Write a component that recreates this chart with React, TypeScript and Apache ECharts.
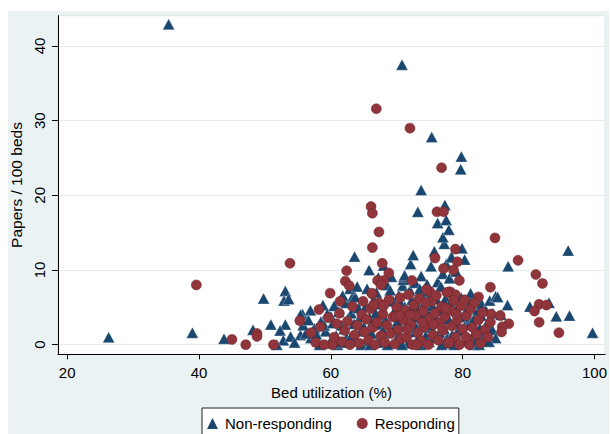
import React, { useEffect, useRef } from "react";
import * as echarts from "echarts";

const xTicks = [20, 40, 60, 80, 100];
const yTicks = [0, 10, 20, 30, 40];
const seriesNames = ["Non-responding", "Responding"];

// Non-responding hospitals: [bed utilization %, papers / 100 beds]
const nonResponding: number[][] = [
  [26.3, 1.0], [35.4, 42.9], [39.0, 1.6], [43.8, 0.8], [49.8, 6.2], [48.2, 2.0], [50.9, 2.7],
  [53.1, 7.2], [52.9, 5.9], [53.6, 6.1], [53.1, 2.7], [52.3, 1.9], [52.8, 0.6], [51.8, 0.0],
  [53.9, 1.1], [55.7, 4.1], [55.4, 1.3], [54.5, 0.3],
  [55.4, 4.0], [56.9, 4.6], [57.5, 2.2], [56.2, 1.5], [58.0, 0.5], [58.5, 3.1], [59.2, 1.8],
  [59.8, 0.2], [57.0, 0.9], [55.8, 2.6], [58.8, 5.3], [59.5, 4.2],
  [56.6, 3.3], [57.8, 1.4], [58.3, 0.0], [59.0, 2.6], [60.0, 3.8], [61.0, 0.0], [61.6, 2.6],
  [62.4, 0.9], [63.1, 4.2], [64.1, 3.1], [65.2, 0.2], [66.3, 3.0], [67.5, 4.0], [68.9, 1.6],
  [70.0, 0.3], [71.2, 5.1], [72.4, 3.0], [73.6, 0.0], [74.8, 2.3], [76.1, 4.5], [77.7, 1.0],
  [79.5, 2.2], [80.9, 3.4], [81.7, 0.0], [82.8, 3.9], [83.9, 2.4], [84.6, 4.2], [81.9, 1.8],
  [60.3, 2.9], [60.8, 1.2], [61.2, 4.4], [61.5, 0.3], [62.0, 2.1], [62.3, 5.6], [62.6, 3.5],
  [63.0, 1.0], [63.3, 6.4], [63.7, 6.4], [63.5, 2.8], [63.9, 0.5], [64.2, 4.9], [64.5, 1.8],
  [64.8, 3.7], [60.5, 5.2], [61.8, 6.6], [62.9, 7.5], [64.0, 7.8], [63.6, 11.8], [64.6, 0.0],
  [65.0, 2.4], [65.3, 5.1], [65.6, 0.8], [65.9, 3.6], [66.2, 1.5], [66.5, 6.0], [66.8, 4.2],
  [67.1, 0.3], [67.4, 2.7], [67.7, 5.4], [68.0, 1.1], [68.3, 3.3], [68.5, 8.0], [68.8, 6.3],
  [69.0, 7.3], [69.2, 9.1], [69.4, 2.0], [69.7, 4.6], [69.9, 0.6], [65.5, 7.5], [66.9, 7.0],
  [67.9, 1.9], [68.6, 0.0], [66.0, 0.0], [69.5, 5.8], [67.2, 9.0], [65.8, 10.0], [68.0, 10.6],
  [70.1, 3.1], [70.4, 1.4], [70.6, 5.5], [70.9, 7.9], [71.0, 8.7], [71.1, 9.1], [71.2, 9.3],
  [71.4, 2.4], [71.7, 0.2], [71.9, 4.1], [72.0, 7.3], [72.1, 10.8], [72.5, 12.0], [72.3, 6.0],
  [72.6, 1.7], [72.9, 3.6], [73.2, 0.8], [73.4, 5.0], [73.7, 9.2], [73.9, 2.9], [74.2, 6.8],
  [74.4, 1.2], [74.7, 4.4], [74.9, 0.4], [70.3, 6.6], [71.5, 6.9], [72.8, 8.3], [73.5, 7.5],
  [74.0, 3.8], [74.6, 8.1], [70.8, 0.0], [73.0, 2.2], [74.3, 5.7], [72.2, 4.9],
  [75.2, 10.5], [75.7, 12.5], [75.1, 2.6], [75.4, 5.2], [75.6, 0.9], [75.9, 3.9], [76.2, 8.4],
  [76.5, 1.6], [76.7, 7.8], [76.9, 4.7], [77.2, 2.1], [77.4, 6.2], [77.6, 0.2], [77.9, 3.4],
  [78.1, 5.6], [78.3, 11.8], [78.4, 1.3], [78.6, 7.0], [78.9, 2.8], [79.1, 4.8], [79.3, 0.6],
  [79.6, 3.7], [79.8, 6.3], [79.9, 12.9], [75.3, 7.1], [76.0, 6.1], [76.3, 3.0], [77.0, 9.5],
  [78.0, 8.9], [79.0, 9.8], [77.5, 10.8], [76.8, 0.0], [78.7, 0.0], [77.2, 13.5], [77.0, 14.4],
  [80.1, 1.9], [80.3, 11.4], [80.4, 4.3], [80.6, 0.5], [80.8, 4.9], [81.0, 2.7], [81.3, 5.8],
  [81.5, 1.1], [81.8, 3.6], [82.0, 0.3], [82.3, 4.6], [82.6, 2.2], [82.9, 5.4], [83.2, 1.4],
  [83.3, 0.9], [83.5, 4.6], [83.8, 3.0], [84.1, 5.9], [84.5, 2.0], [85.0, 0.9], [85.0, 6.5],
  [85.3, 6.4], [85.8, 4.0], [86.8, 5.3], [86.9, 10.5], [81.2, 6.9], [82.5, 0.0], [84.0, 0.4],
  [70.8, 37.5], [75.3, 27.8], [79.8, 25.2], [79.7, 23.5], [73.7, 20.7], [77.3, 18.7],
  [73.2, 17.8], [76.2, 16.3], [77.5, 16.7], [77.9, 15.4], [78.3, 11.7],
  [96.0, 12.6], [90.2, 5.1], [93.1, 5.6], [94.2, 3.8], [96.2, 3.9], [99.7, 1.6],
];

// Responding hospitals
const responding: number[][] = [
  [39.6, 8.0], [45.0, 0.7], [47.1, 0.0], [48.8, 1.5], [48.8, 1.1], [51.3, 0.0], [53.8, 10.9],
  [55.3, 3.2], [58.2, 4.7], [57.7, 0.3], [60.2, 0.0],
  [66.9, 31.6], [72.0, 29.0], [76.8, 23.7], [66.1, 18.5], [66.3, 17.6], [76.1, 17.8], [77.1, 17.8],
  [67.3, 15.1], [66.3, 13.0], [67.8, 10.9], [68.8, 9.6], [62.4, 9.9], [62.2, 8.5], [62.8, 7.9],
  [67.1, 8.6], [68.0, 8.6], [67.6, 8.0], [66.3, 6.8], [59.9, 6.9], [72.3, 8.6], [75.8, 11.6],
  [78.9, 12.8], [79.2, 11.1], [77.1, 10.2], [78.6, 10.0], [79.5, 8.6], [84.9, 14.3], [88.4, 11.3],
  [91.1, 9.4], [92.1, 8.2], [84.2, 7.7], [82.4, 6.4], [91.6, 5.4], [92.7, 5.3], [90.9, 4.5],
  [91.6, 3.0], [94.6, 1.6], [85.7, 3.9], [87.0, 2.8], [86.0, 2.4], [85.9, 1.7], [84.3, 4.1],
  [78.0, 7.1], [78.9, 6.7], [75.0, 7.1], [61.4, 5.8], [64.9, 5.8], [66.2, 6.9],
  [57.0, 1.6], [58.4, 2.4], [59.0, 0.0], [59.6, 3.6], [60.5, 1.0], [60.9, 2.8], [61.3, 4.2],
  [61.7, 0.4], [62.1, 1.9], [62.5, 3.1], [62.9, 0.0], [63.3, 5.1], [63.6, 1.3], [64.0, 2.6],
  [64.3, 0.2], [64.7, 4.0], [65.1, 1.7], [65.4, 3.4], [65.7, 0.6], [66.0, 4.8], [66.4, 2.3],
  [66.7, 0.0], [67.0, 3.0], [67.3, 5.6], [67.6, 1.2], [67.9, 4.1], [68.2, 0.3], [68.5, 2.6],
  [68.8, 6.0], [69.1, 1.5], [69.4, 3.7], [69.7, 0.1], [70.0, 5.0], [70.2, 2.0], [70.5, 6.3],
  [70.7, 0.8], [71.0, 3.3], [71.3, 4.6], [71.5, 1.0], [71.8, 6.7], [72.1, 2.7], [72.4, 0.0],
  [72.6, 5.3], [72.9, 3.9], [73.2, 1.6], [73.4, 6.2], [73.7, 0.5], [74.0, 4.5], [74.2, 2.4],
  [74.5, 7.4], [74.8, 0.0], [75.0, 3.5], [75.3, 5.8], [75.5, 1.3], [75.8, 4.2], [76.0, 6.6],
  [76.3, 0.6], [76.5, 2.9], [76.8, 5.1], [77.0, 1.9], [77.3, 3.8], [77.6, 7.0], [77.8, 0.2],
  [78.1, 4.6], [78.4, 2.5], [78.6, 5.9], [78.9, 1.0], [79.2, 3.3], [79.5, 0.0], [79.7, 5.2],
  [80.0, 2.1], [80.3, 6.0], [80.6, 3.9], [80.9, 0.7], [81.2, 4.8], [81.5, 2.3], [81.8, 5.6],
  [82.1, 1.4], [82.4, 3.3], [82.7, 0.2], [83.0, 4.3], [83.4, 2.0], [83.8, 1.0], [84.2, 3.0],
  [81.0, 0.0], [73.9, 3.0], [72.0, 4.0], [69.9, 3.8], [68.0, 5.2], [66.5, 5.3], [70.4, 3.9],
  [75.6, 2.7], [77.4, 4.9], [79.0, 4.1], [74.4, 5.6], [71.6, 2.1], [73.0, 0.0], [78.0, 0.3],
  [76.9, 2.3], [80.5, 1.0],
];

const FONT = "'Liberation Sans', Arial, Helvetica, sans-serif";

export default function App() {
  const ref = useRef<HTMLDivElement>(null);
  useEffect(() => {
    if (!ref.current) return;
    const chart = echarts.init(ref.current, null, { renderer: "svg" });
    chart.setOption({
      animation: false,
      backgroundColor: "#eaf2f3",
      textStyle: { fontFamily: FONT },
      graphic: [
        { type: "rect", shape: { x: 0, y: 0, width: 610, height: 11 }, style: { fill: "#ffffff" }, silent: true },
        { type: "rect", shape: { x: 0, y: 0, width: 8, height: 434 }, style: { fill: "#ffffff" }, silent: true },
        { type: "rect", shape: { x: 609, y: 0, width: 1, height: 434 }, style: { fill: "#ffffff" }, silent: true },
      ],
      grid: {
        left: 55.7,
        right: 3.3,
        top: 15.7,
        bottom: 79.7,
        show: true,
        backgroundColor: "#ffffff",
        borderColor: "#dbe5e8",
        borderWidth: 1,
      },
      legend: {
        left: 202,
        top: 408,
        orient: "horizontal",
        backgroundColor: "#ffffff",
        borderColor: "#222222",
        borderWidth: 1,
        padding: [8, 4, 14, 5],
        itemGap: 25,
        itemWidth: 11,
        itemHeight: 11,
        itemStyle: { borderWidth: 0 },
        textStyle: { fontSize: 15, color: "#000", fontFamily: FONT, padding: [0, 0, 0, 2] },
        data: [
          { name: seriesNames[0], icon: "triangle" },
          { name: seriesNames[1], icon: "circle", itemStyle: { borderWidth: 0 } },
        ],
      },
      xAxis: {
        type: "value",
        min: 18.6,
        max: 101.6,
        name: "Bed utilization (%)",
        nameLocation: "middle",
        nameGap: 28,
        nameTextStyle: { fontSize: 15, color: "#000", fontFamily: FONT },
        axisLine: { show: true, onZero: false, lineStyle: { color: "#000", width: 1 } },
        axisTick: { show: true, inside: false, length: 5, customValues: xTicks, lineStyle: { color: "#000" } },
        axisLabel: { customValues: xTicks, margin: 11, fontSize: 15, color: "#000", fontFamily: FONT },
        splitLine: { show: false },
      },
      yAxis: {
        type: "value",
        min: -1.29,
        max: 44.06,
        name: "Papers / 100 beds",
        nameLocation: "middle",
        nameGap: 25,
        nameTextStyle: { fontSize: 15.5, color: "#000", fontFamily: FONT },
        axisLine: { show: true, onZero: false, lineStyle: { color: "#000", width: 1 } },
        axisTick: { show: true, inside: false, length: 6, customValues: yTicks, lineStyle: { color: "#000" } },
        axisLabel: { customValues: yTicks, rotate: 90, margin: 11, fontSize: 15, color: "#000", fontFamily: FONT },
        splitLine: { show: false },
      },
      series: [
        {
          name: seriesNames[0],
          type: "scatter",
          symbol: "triangle",
          symbolSize: [12, 11],
          data: nonResponding,
          itemStyle: { color: "#1a476f", borderColor: "#ffffff", borderWidth: 0.3, opacity: 1 },
          markLine: {
            silent: true,
            symbol: "none",
            label: { show: false },
            lineStyle: { color: "#e3ecef", width: 1, type: "solid" },
            data: yTicks.map((v) => ({ yAxis: v })),
            z: 0,
          },
          z: 2,
        },
        {
          name: seriesNames[1],
          type: "scatter",
          symbol: "circle",
          symbolSize: 10,
          data: responding,
          itemStyle: { color: "#90353b", borderColor: "#6a2227", borderWidth: 0.5, opacity: 1 },
          z: 3,
        },
      ],
    });
    return () => chart.dispose();
  }, []);
  return (
    <div
      ref={ref}
      style={{ position: "fixed", left: 0, top: 0, width: 610, height: 434 }}
    />
  );
}
